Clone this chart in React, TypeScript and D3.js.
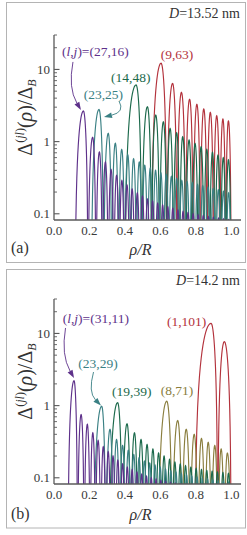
import React from 'react';
import * as d3 from 'd3';

// ---------------- data ----------------
const xTickValues = [0, 0.2, 0.4, 0.6, 0.8, 1.0];
const yTickMajor = [0.1, 1, 10];
const yTickMinor = [0.2, 0.3, 0.4, 0.5, 0.6, 0.7, 0.8, 0.9, 2, 3, 4, 5, 6, 7, 8, 9, 20, 30];

// Panel (a): D = 13.52 nm
const aPurpleStart = 0.118;
const aPurplePeakX = [0.166, 0.218, 0.256, 0.29, 0.322, 0.353, 0.383, 0.412, 0.441, 0.47, 0.499, 0.527, 0.556, 0.585, 0.613, 0.642, 0.67, 0.699, 0.728, 0.756, 0.785, 0.813, 0.842, 0.871, 0.899, 0.928, 0.956, 0.985];
const aPurplePeakY = [2.65, 1.15, 0.72, 0.52, 0.41, 0.34, 0.29, 0.25, 0.22, 0.195, 0.175, 0.16, 0.15, 0.14, 0.132, 0.125, 0.119, 0.113, 0.108, 0.104, 0.1, 0.097, 0.094, 0.091, 0.089, 0.087, 0.085, 0.083];

const aTealStart = 0.21;
const aTealPeakX = [0.254, 0.306, 0.346, 0.382, 0.416, 0.449, 0.481, 0.512, 0.543, 0.573, 0.603, 0.633, 0.662, 0.692, 0.721, 0.751, 0.78, 0.81, 0.839, 0.869, 0.898, 0.927, 0.956, 0.985];
const aTealPeakY = [2.78, 1.3, 0.95, 0.78, 0.66, 0.58, 0.52, 0.47, 0.43, 0.4, 0.37, 0.35, 0.33, 0.31, 0.29, 0.28, 0.27, 0.255, 0.245, 0.235, 0.225, 0.215, 0.205, 0.195];

const aGreenStart = 0.4;
const aGreenPeakX = [0.463, 0.527, 0.574, 0.617, 0.655, 0.692, 0.726, 0.762, 0.796, 0.83, 0.862, 0.894, 0.925, 0.955, 0.984];
const aGreenPeakY = [6.1, 3.04, 2.33, 1.88, 1.52, 1.33, 1.17, 1.05, 0.94, 0.85, 0.78, 0.71, 0.65, 0.6, 0.56];

const aRedStart = 0.55;
const aRedPeakX = [0.604, 0.669, 0.719, 0.765, 0.806, 0.845, 0.882, 0.918, 0.953, 0.984];
const aRedPeakY = [12.2, 6.4, 4.8, 3.86, 3.28, 2.83, 2.54, 2.28, 2.05, 1.93];

// Panel (b): D = 14.2 nm
const bPurpleStart = 0.078;
const bPurplePeakX = [0.113, 0.153, 0.188, 0.219, 0.249, 0.278, 0.306, 0.333, 0.36, 0.387, 0.414, 0.441, 0.468, 0.495, 0.522, 0.549, 0.576, 0.603, 0.63, 0.657, 0.684, 0.711, 0.738, 0.765, 0.792, 0.819, 0.846, 0.873, 0.9, 0.927, 0.954, 0.981];
const bPurplePeakY = [2.21, 0.75, 0.55, 0.42, 0.33, 0.27, 0.23, 0.2, 0.175, 0.155, 0.14, 0.13, 0.12, 0.112, 0.105, 0.1, 0.096, 0.092, 0.089, 0.086, 0.084, 0.082, 0.08, 0.079, 0.078, 0.077, 0.076, 0.075, 0.074, 0.073, 0.072, 0.071];

const bTealStart = 0.222;
const bTealPeakX = [0.269, 0.316, 0.353, 0.387, 0.419, 0.45, 0.48, 0.51, 0.54, 0.57, 0.599, 0.629, 0.659, 0.688, 0.718, 0.748, 0.777, 0.807, 0.837, 0.866, 0.896, 0.926, 0.955, 0.985];
const bTealPeakY = [0.98, 0.47, 0.34, 0.28, 0.24, 0.21, 0.19, 0.17, 0.16, 0.15, 0.14, 0.132, 0.125, 0.12, 0.115, 0.11, 0.106, 0.102, 0.099, 0.096, 0.093, 0.091, 0.089, 0.087];

const bGreenStart = 0.31;
const bGreenPeakX = [0.359, 0.412, 0.454, 0.491, 0.525, 0.558, 0.59, 0.621, 0.652, 0.682, 0.712, 0.742, 0.772, 0.802, 0.832, 0.862, 0.892, 0.922, 0.953, 0.984];
const bGreenPeakY = [1.1, 0.56, 0.42, 0.34, 0.29, 0.25, 0.22, 0.2, 0.18, 0.165, 0.155, 0.147, 0.14, 0.135, 0.13, 0.126, 0.123, 0.12, 0.118, 0.115];

const bOliveStart = 0.587;
const bOlivePeakX = [0.636, 0.698, 0.746, 0.791, 0.832, 0.87, 0.907, 0.943, 0.978];
const bOlivePeakY = [1.15, 0.62, 0.47, 0.4, 0.35, 0.31, 0.28, 0.25, 0.22];

const bRedStart = 0.795;
const bRedPeakX = [0.886, 0.961];
const bRedPeakY = [13.8, 7.7];

const curveEnd = 1.0;

// ---------------- styles ----------------
const C = {
  purple: '#5e318a',
  teal: '#3a8084',
  green: '#1c6a4c',
  red: '#b3323c',
  olive: '#8a7e3e',
};
const FONT = "'Liberation Serif', 'Times New Roman', serif";

const M = { left: 54, right: 241, top: 35, bottom: 220 };
const xDomain: [number, number] = [0, 1.055];
const yDomain: [number, number] = [0.082, 30];

type Curve = { start: number; end: number; peakX: number[]; peakY: number[]; color: string };

function lobes(c: Curve): [number, number][][] {
  const n = c.peakX.length;
  const out: [number, number][][] = [];
  const steps = 18;
  for (let i = 0; i < n; i++) {
    const z0 = i === 0 ? c.start : (c.peakX[i - 1] + c.peakX[i]) / 2;
    const z1 = i === n - 1 ? c.end : (c.peakX[i] + c.peakX[i + 1]) / 2;
    const p = c.peakX[i];
    const P = c.peakY[i];
    const pts: [number, number][] = [];
    for (let k = 0; k <= steps; k++) {
      const t = k / steps;
      pts.push([z0 + (p - z0) * t, P * Math.pow(Math.sin((Math.PI / 2) * t), 2)]);
    }
    for (let k = 1; k <= steps; k++) {
      const t = k / steps;
      pts.push([p + (z1 - p) * t, P * Math.pow(Math.cos((Math.PI / 2) * t), 2)]);
    }
    out.push(pts);
  }
  return out;
}

type Label = { text: React.ReactNode; rho: number; val: number; color: string; anchor: string };
type Arrow = { from: [number, number]; ctrl: [number, number]; tip: [number, number]; color: string };

const LJ = (nums: string) => (
  <>
    (<tspan fontStyle="italic">l</tspan>,<tspan fontStyle="italic">j</tspan>)={nums}
  </>
);

function Panel(props: {
  id: string;
  offset: number;
  borderTop: number;
  borderBottom: number;
  curves: Curve[];
  labels: Label[];
  arrows: Arrow[];
  dText: string;
  tag: string;
}) {
  const { id, offset, borderTop, borderBottom, curves, labels, arrows, dText, tag } = props;
  const x = d3.scaleLinear().domain(xDomain).range([M.left, M.right]);
  const y = d3.scaleLog().domain(yDomain).range([M.bottom, M.top]);
  const line = d3
    .line<[number, number]>()
    .x((d) => x(d[0]))
    .y((d) => y(Math.max(d[1], 1e-5)));
  const bTop = borderTop - offset;
  const bBot = borderBottom - offset;

  return (
    <g transform={`translate(0,${offset})`}>
      <rect x={6.5} y={bTop} width={239} height={bBot - bTop} fill="none" stroke="#b4b4b4" strokeWidth={1} />
      <defs>
        <clipPath id={id}>
          <rect x={M.left} y={M.top} width={M.right - M.left} height={M.bottom - M.top} />
        </clipPath>
      </defs>
      <g clipPath={`url(#${id})`}>
        {curves.map((c, ci) =>
          lobes(c).map((pts, li) => (
            <path key={`${ci}-${li}`} d={line(pts) || ''} fill="none" stroke={c.color} strokeWidth={1.15} />
          ))
        )}
      </g>
      {/* axes */}
      <line x1={M.left} x2={M.left} y1={M.top} y2={M.bottom} stroke="#5a5a5a" strokeWidth={1.3} />
      <line x1={M.left} x2={M.right} y1={M.bottom} y2={M.bottom} stroke="#5a5a5a" strokeWidth={1.6} />
      {yTickMajor.map((t) => (
        <line key={'M' + t} x1={M.left} x2={M.left + 5.5} y1={y(t)} y2={y(t)} stroke="#5a5a5a" strokeWidth={1.1} />
      ))}
      {yTickMinor.map((t) => (
        <line key={'m' + t} x1={M.left} x2={M.left + 3} y1={y(t)} y2={y(t)} stroke="#5a5a5a" strokeWidth={0.9} />
      ))}
      {yTickMajor.map((t) => (
        <text key={'l' + t} x={50} y={y(t) + 4.5} textAnchor="end" fontFamily={FONT} fontSize={13} fill="#3a3a3a">
          {t === 0.1 ? '0.1' : String(t)}
        </text>
      ))}
      {xTickValues.map((t) => (
        <text key={'x' + t} x={x(t)} y={234.5} textAnchor="middle" fontFamily={FONT} fontSize={13} fill="#3a3a3a">
          {t.toFixed(1)}
        </text>
      ))}
      {/* axis titles */}
      <text x={140.5} y={bBot - 8} textAnchor="middle" fontFamily={FONT} fontSize={16} fill="#333" fontStyle="italic">
        ρ/R
      </text>
      <text transform={`translate(32,117.5) rotate(-90)`} textAnchor="middle" fontFamily={FONT} fontSize={20} fill="#333">
        Δ
        <tspan fontSize={12} dy={-8}>
          (<tspan fontStyle="italic">jl</tspan>)
        </tspan>
        <tspan dy={8}>(</tspan>
        <tspan fontStyle="italic">ρ</tspan>)/Δ
        <tspan fontSize={12} dy={4} fontStyle="italic">B</tspan>
      </text>
      <text x={11} y={bBot - 9.5} fontFamily={FONT} fontSize={16} fill="#333">
        {tag}
      </text>
      <text x={240} y={bTop + 15.5} textAnchor="end" fontFamily={FONT} fontSize={14} fill="#333">
        <tspan fontStyle="italic">D</tspan>={dText}
      </text>
      {/* annotations */}
      {arrows.map((a, i) => {
        const p0 = [x(a.from[0]), y(a.from[1])];
        const pc = [x(a.ctrl[0]), y(a.ctrl[1])];
        const pt = [x(a.tip[0]), y(a.tip[1])];
        const dx = pt[0] - pc[0];
        const dy = pt[1] - pc[1];
        const len = Math.hypot(dx, dy) || 1;
        const ux = dx / len, uy = dy / len;
        const L = 8, Wd = 2.8;
        const bx = pt[0] - ux * L, by = pt[1] - uy * L;
        const tri = `M${pt[0]},${pt[1]}L${bx - uy * Wd},${by + ux * Wd}L${bx + uy * Wd},${by - ux * Wd}Z`;
        return (
          <g key={'a' + i}>
            <path d={`M${p0[0]},${p0[1]}Q${pc[0]},${pc[1]} ${bx},${by}`} fill="none" stroke={a.color} strokeWidth={0.9} />
            <path d={tri} fill={a.color} stroke="none" />
          </g>
        );
      })}
      {labels.map((l, i) => (
        <text key={'t' + i} x={x(l.rho)} y={y(l.val)} textAnchor={l.anchor} fontFamily={FONT} fontSize={13.5} fill={l.color}>
          {l.text}
        </text>
      ))}
    </g>
  );
}

export default function App() {
  const curvesA: Curve[] = [
    { start: aRedStart, end: curveEnd, peakX: aRedPeakX, peakY: aRedPeakY, color: C.red },
    { start: aGreenStart, end: curveEnd, peakX: aGreenPeakX, peakY: aGreenPeakY, color: C.green },
    { start: aTealStart, end: curveEnd, peakX: aTealPeakX, peakY: aTealPeakY, color: C.teal },
    { start: aPurpleStart, end: curveEnd, peakX: aPurplePeakX, peakY: aPurplePeakY, color: C.purple },
  ];
  const curvesB: Curve[] = [
    { start: bRedStart, end: curveEnd, peakX: bRedPeakX, peakY: bRedPeakY, color: C.red },
    { start: bOliveStart, end: curveEnd, peakX: bOlivePeakX, peakY: bOlivePeakY, color: C.olive },
    { start: bGreenStart, end: curveEnd, peakX: bGreenPeakX, peakY: bGreenPeakY, color: C.green },
    { start: bTealStart, end: curveEnd, peakX: bTealPeakX, peakY: bTealPeakY, color: C.teal },
    { start: bPurpleStart, end: curveEnd, peakX: bPurplePeakX, peakY: bPurplePeakY, color: C.purple },
  ];
  const labelsA: Label[] = [
    { text: LJ('(27,16)'), rho: 0.045, val: 15.3, color: C.purple, anchor: 'start' },
    { text: '(23,25)', rho: 0.279, val: 3.89, color: C.teal, anchor: 'middle' },
    { text: '(14,48)', rho: 0.433, val: 6.69, color: C.green, anchor: 'middle' },
    { text: '(9,63)', rho: 0.694, val: 13.9, color: C.red, anchor: 'middle' },
  ];
  const arrowsA: Arrow[] = [
    { from: [0.107, 12.7], ctrl: [0.079, 5.53], tip: [0.152, 2.74], color: C.purple },
    { from: [0.367, 3.65], ctrl: [0.401, 2.57], tip: [0.282, 2.19], color: C.teal },
  ];
  const labelsB: Label[] = [
    { text: LJ('(31,11)'), rho: 0.049, val: 13.9, color: C.purple, anchor: 'start' },
    { text: '(23,29)', rho: 0.248, val: 3.32, color: C.teal, anchor: 'middle' },
    { text: '(19,39)', rho: 0.4385, val: 1.36, color: C.green, anchor: 'middle' },
    { text: '(8,71)', rho: 0.694, val: 1.4, color: C.olive, anchor: 'middle' },
    { text: '(1,101)', rho: 0.748, val: 12.66, color: C.red, anchor: 'middle' },
  ];
  const arrowsB: Arrow[] = [
    { from: [0.065, 11.9], ctrl: [0.0395, 5.02], tip: [0.113, 2.41], color: C.purple },
    { from: [0.223, 2.92], ctrl: [0.192, 1.54], tip: [0.265, 1.0], color: C.teal },
  ];
  return (
    <svg width={247} height={535} style={{ position: 'absolute', left: 0, top: 0, background: '#fff' }}>
      <rect x={0} y={0} width={247} height={535} fill="#fff" />
      <Panel id="clipA" offset={0} borderTop={2.5} borderBottom={262.5} curves={curvesA} labels={labelsA} arrows={arrowsA} dText="13.52 nm" tag="(a)" />
      <Panel id="clipB" offset={264} borderTop={269.5} borderBottom={528} curves={curvesB} labels={labelsB} arrows={arrowsB} dText="14.2 nm" tag="(b)" />
    </svg>
  );
}
